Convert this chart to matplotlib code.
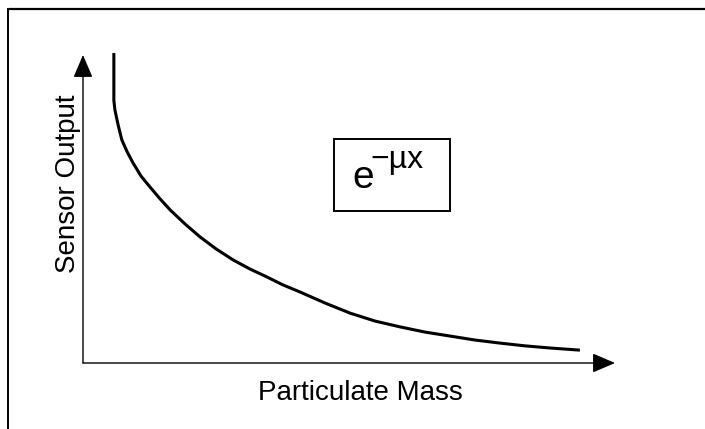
import matplotlib
matplotlib.use("Agg")
import matplotlib.pyplot as plt
from matplotlib.lines import Line2D
from matplotlib.patches import Rectangle

plt.rcParams['font.family'] = ['Liberation Sans', 'DejaVu Sans']

# curve (arbitrary units, axes run 0..10)
mass = [0.58, 0.58, 0.60, 0.66, 0.73, 0.83, 0.94, 1.09, 1.26, 1.45, 1.64, 1.92, 2.20, 2.50,
        2.82, 3.14, 3.46, 3.76, 4.08, 4.55, 5.02, 5.49, 5.96, 6.43, 6.90, 7.37, 7.84, 8.31,
        8.78, 9.34]
output = [10.13, 8.59, 8.27, 7.78, 7.29, 6.90, 6.54, 6.11, 5.75, 5.36, 5.00, 4.54, 4.12, 3.73,
          3.37, 3.07, 2.81, 2.55, 2.32, 1.96, 1.63, 1.37, 1.18, 1.01, 0.88, 0.75, 0.65, 0.56,
          0.49, 0.42]

x_label = "Particulate Mass"
y_label = "Sensor Output"

W, H = 705, 429
fig = plt.figure(figsize=(W / 100, H / 100), dpi=100)

# outer frame of the scanned figure (top and left edges only)
fig.add_artist(Line2D([10 / W, 1], [1 - 9 / H, 1 - 9 / H], color='black', lw=1.6))
fig.add_artist(Line2D([8 / W, 8 / W], [0, 1 - 9 / H], color='black', lw=1.4))

x0, x1, ytop, ybot = 83, 615, 55, 363
sx = (x1 - x0) / 10
sy = (ybot - ytop) / 10
ax = fig.add_axes([x0 / W, (H - ybot) / H, (x1 - x0) / W, (ybot - ytop) / H])
ax.set_xlim(0, 10)
ax.set_ylim(0, 10)
ax.axis('off')

# axes drawn as arrows
arrow = dict(arrowstyle='-|>,head_length=1.4,head_width=0.6', color='black', lw=1.0,
             shrinkA=0, shrinkB=0)
ax.annotate('', xy=(0, 10), xytext=(0, 0), arrowprops=arrow, annotation_clip=False)
ax.annotate('', xy=(10, 0.0), xytext=(0, 0), arrowprops=arrow, annotation_clip=False)

# rescale the curve points (read against pixel axes 83..615 / 57..363)
cx = [m * 53.2 / sx for m in mass]
cy = [o * 30.6 / sy for o in output]
ax.plot(cx, cy, color='black', lw=2.2, solid_capstyle='butt', clip_on=False)

# formula box
ax.add_patch(Rectangle(((334 - x0) / sx, (ybot - 211) / sy), (450 - 334) / sx, (211 - 139) / sy,
                       fill=False, edgecolor='black', lw=1.4))
fig.text(352 / W, 1 - 188 / H, "e", fontsize=28, ha='left', va='baseline')
fig.text(370 / W, 1 - 168 / H, "\u2212\u00b5x", fontsize=23, ha='left', va='baseline')

fig.text(360 / W, 1 - 393 / H, x_label, fontsize=20, ha='center', va='center')
fig.text(68 / W, 1 - 184 / H, y_label, fontsize=20, ha='center', va='center', rotation=90)

fig.savefig("out.png", dpi=100)
